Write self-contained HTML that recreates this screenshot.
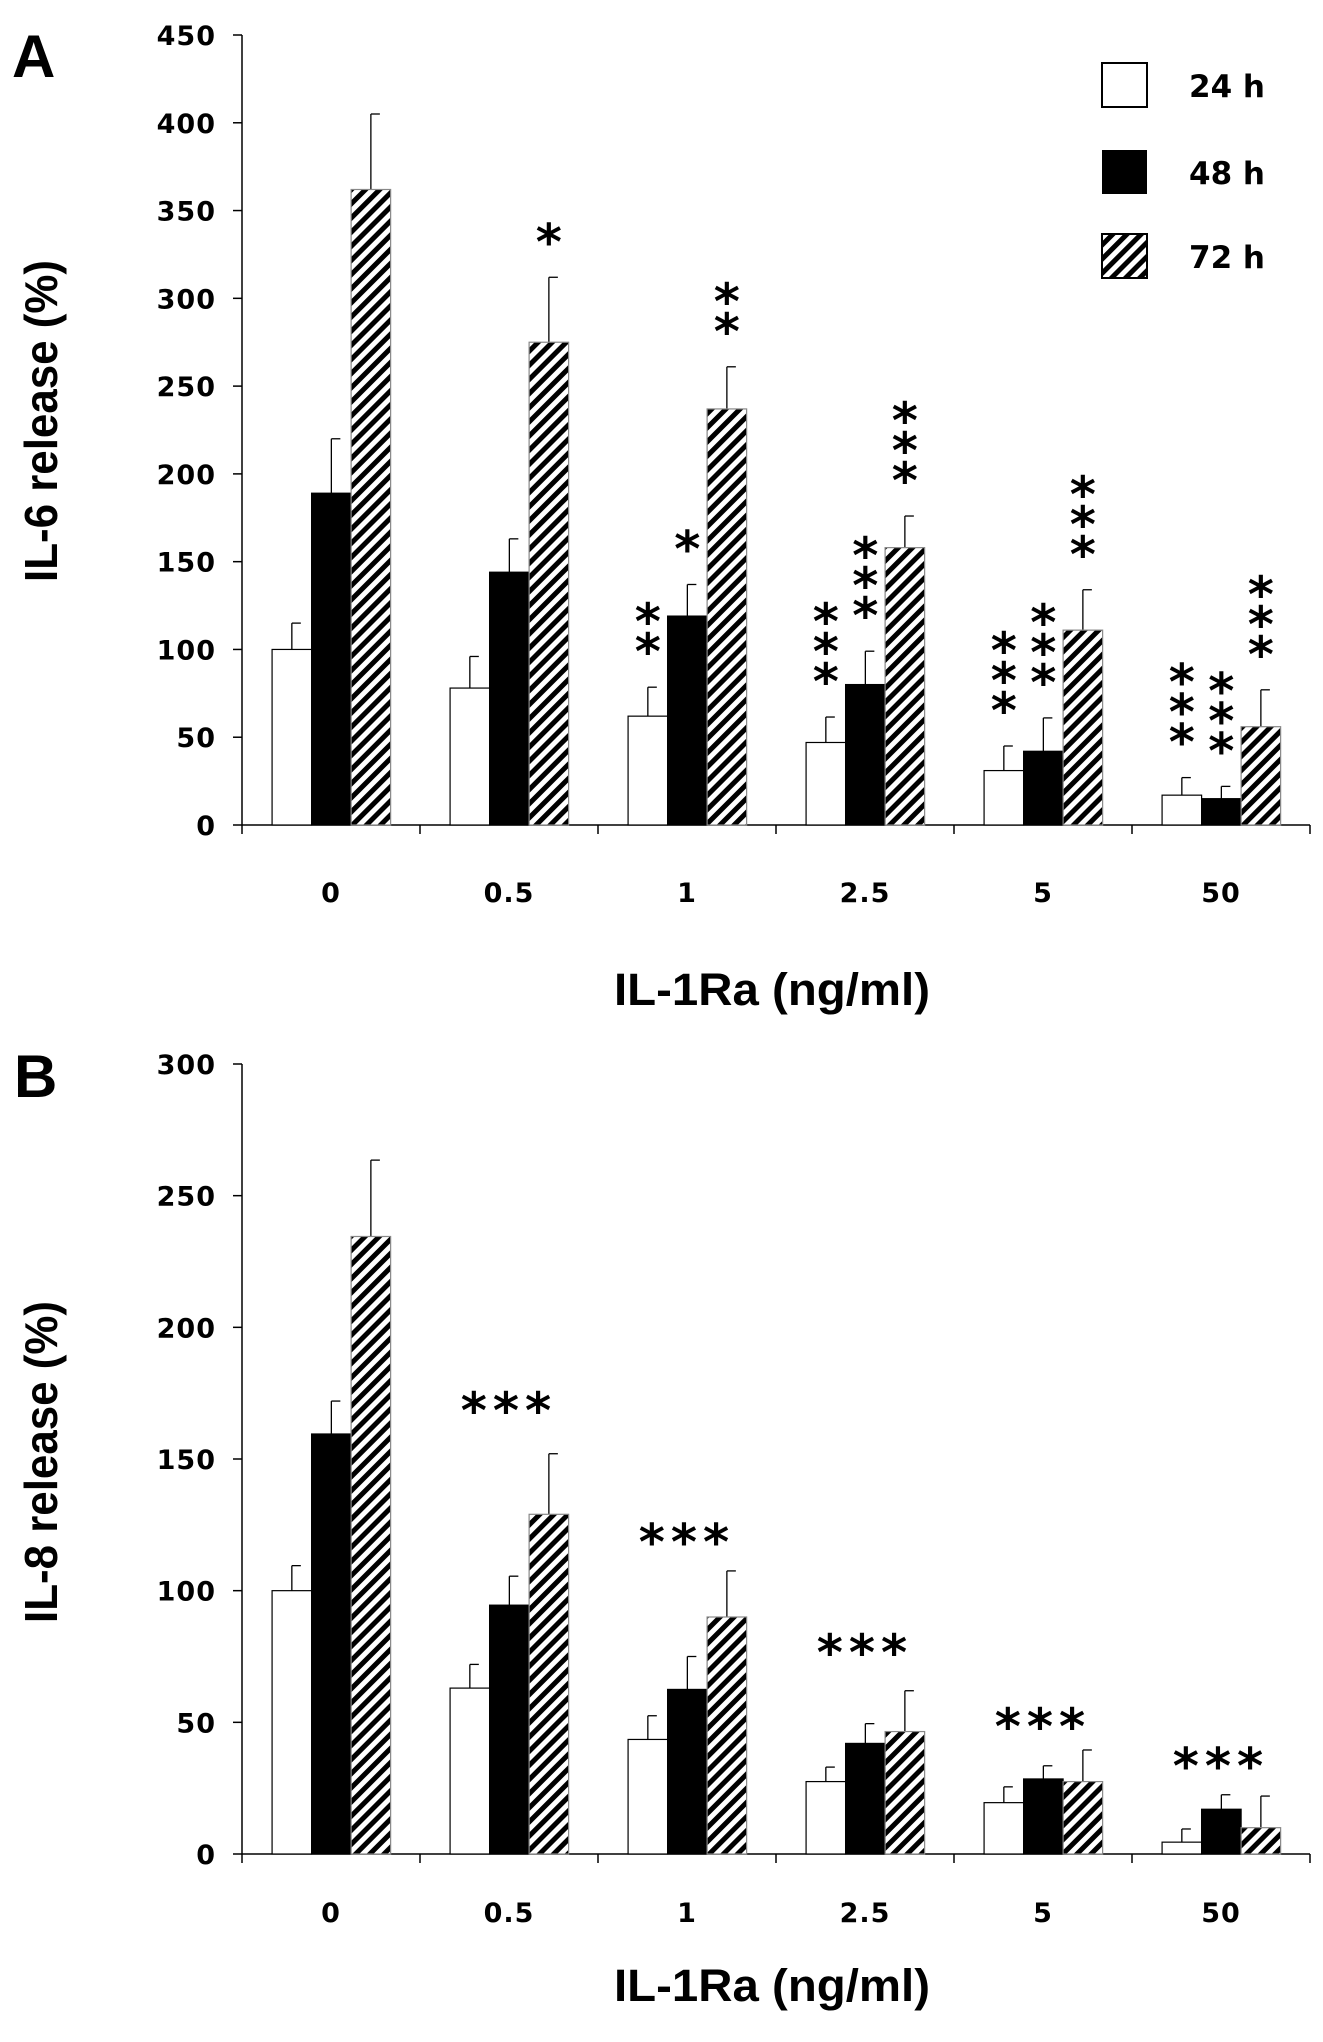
<!DOCTYPE html>
<html><head><meta charset="utf-8"><style>
html,body{margin:0;padding:0;background:#fff;}
svg{display:block;}
text{fill:#000;}
</style></head><body>
<svg id="fig" width="1323" height="2042" viewBox="0 0 1323 2042" xmlns="http://www.w3.org/2000/svg">
<defs>
<pattern id="hatch" patternUnits="userSpaceOnUse" width="10" height="10" patternTransform="rotate(45)">
<rect x="0" y="0" width="10" height="10" fill="#fff"/>
<rect x="0" y="0" width="5" height="10" fill="#000"/>
</pattern>
</defs>
<text x="12" y="77" font-family="Liberation Sans, sans-serif" font-weight="bold" font-size="60">A</text>
<text x="14" y="1097" font-family="Liberation Sans, sans-serif" font-weight="bold" font-size="60">B</text>
<g>
<rect x="1102" y="63" width="45" height="44" fill="#fff" stroke="#000" stroke-width="2"/>
<text x="1189" y="97" font-family="DejaVu Sans, sans-serif" font-weight="bold" font-size="31">24 h</text>
<rect x="1102" y="150" width="45" height="44" fill="#000"/>
<text x="1189" y="184" font-family="DejaVu Sans, sans-serif" font-weight="bold" font-size="31">48 h</text>
<rect x="1102" y="234" width="45" height="44" fill="url(#hatch)" stroke="#000" stroke-width="2"/>
<text x="1189" y="268" font-family="DejaVu Sans, sans-serif" font-weight="bold" font-size="31">72 h</text>
</g>
<g id="chartA"></g>
<g id="chartB"></g>
</svg>
<script>
const categories = ["0","0.5","1","2.5","5","50"];
const il6_24h = [100, 78, 62, 47, 31, 17];
const il6_24hErr = [15, 18, 16.5, 14.5, 14, 10];
const il6_48h = [189, 144, 119, 80, 42, 15];
const il6_48hErr = [31, 19, 18, 19, 19, 7];
const il6_72h = [362, 275, 237, 158, 111, 56];
const il6_72hErr = [43, 37, 24, 18, 23, 21];
const il6Stars = [[0,0,0],[0,0,1],[2,1,2],[3,3,3],[3,3,3],[3,3,3]];
const il6Ticks = [0,50,100,150,200,250,300,350,400,450];

const il8_24h = [100, 63, 43.5, 27.5, 19.5, 4.5];
const il8_24hErr = [9.5, 9, 9, 5.5, 6, 5];
const il8_48h = [159.5, 94.5, 62.5, 42, 28.5, 17];
const il8_48hErr = [12.5, 11, 12.5, 7.5, 5, 5.5];
const il8_72h = [234.5, 129, 90, 46.5, 27.5, 10];
const il8_72hErr = [29, 23, 17.5, 15.5, 12, 12];
const il8StarLevel = [null, 174, 124, 82, 54, 39];
const il8Ticks = [0,50,100,150,200,250,300];

const NS = "http://www.w3.org/2000/svg";
function mk(parent, tag, attrs, txt){
  const e = document.createElementNS(NS, tag);
  for (const k in attrs) e.setAttribute(k, attrs[k]);
  if (txt !== undefined) e.textContent = txt;
  parent.appendChild(e);
  return e;
}
const X0 = 242, X1 = 1310, GW = (X1 - X0) / categories.length;

function drawChart(g, cfg){
  const yS = v => cfg.y0 - (v / cfg.max) * (cfg.y0 - cfg.yTop);
  const ya = mk(g, "line", {x1:X0, y1:cfg.yTop, x2:X0, y2:cfg.y0, stroke:"#000", "stroke-width":1.5});
  
  
  const xa = mk(g, "line", {x1:X0, y1:cfg.y0, x2:X1, y2:cfg.y0, stroke:"#000", "stroke-width":1.5});
  
  
  cfg.ticks.forEach(t => {
    const y = yS(t);
    mk(g, "line", {x1:X0-9, y1:y, x2:X0, y2:y, stroke:"#000", "stroke-width":1.5});
    const lb = mk(g, "text", {x:216, y:y+10, "text-anchor":"end", "font-family":"DejaVu Sans, sans-serif", "font-weight":"bold", "font-size":27, "letter-spacing":"1"}, String(t));
    
    
  });
  for (let i = 0; i <= categories.length; i++) {
    const x = X0 + i * GW;
    mk(g, "line", {x1:x, y1:cfg.y0, x2:x, y2:cfg.y0+9, stroke:"#000", "stroke-width":1.5});
  }
  categories.forEach((c, i) => {
    const cx = X0 + (i + 0.5) * GW;
    const lb = mk(g, "text", {x:cx, y:cfg.xLabelY, "text-anchor":"middle", "font-family":"DejaVu Sans, sans-serif", "font-weight":"bold", "font-size":27, "letter-spacing":"1"}, c);
    
    
    const bw = GW * 0.222, start = X0 + i * GW + GW * 0.169;
    const series = [[cfg.s1, cfg.e1, "#fff", "#000"], [cfg.s2, cfg.e2, "#000", "#000"], [cfg.s3, cfg.e3, "url(#hatch)", "#888"]];
    series.forEach((s, k) => {
      const v = s[0][i], err = s[1][i];
      const x = start + k * bw, y = yS(v), ey = yS(v + err);
      const bx = x + bw / 2;
      const el = mk(g, "line", {x1:bx, y1:y, x2:bx, y2:ey, stroke:"#000", "stroke-width":1.3});
      
      
      mk(g, "line", {x1:bx, y1:ey, x2:bx+9, y2:ey, stroke:"#000", "stroke-width":1.3});
      const r = mk(g, "rect", {x:x, y:y, width:bw, height:cfg.y0 - y, fill:s[2], stroke:s[3], "stroke-width":1.2});
      
      
      if (cfg.starsStack) {
        const n = cfg.starsStack[i][k];
        for (let j = 0; j < n; j++) {
          const sy = ey - 50 - j * 30;
          const st = mk(g, "text", {x:bx, y:sy + 32, "text-anchor":"middle", "font-family":"DejaVu Sans, sans-serif", "font-weight":"bold", "font-size":50}, "*");
          
          
        }
      }
    });
    if (cfg.starLevel && cfg.starLevel[i] !== null) {
      const sy = yS(cfg.starLevel[i]);
      const st = mk(g, "text", {x:cx, y:sy + 32, "text-anchor":"middle", "font-family":"DejaVu Sans, sans-serif", "font-weight":"bold", "font-size":50, "letter-spacing":"6"}, "***");
      
      
    }
  });
  const xt = mk(g, "text", {x:772, y:cfg.xTitleY, "text-anchor":"middle", "font-family":"Liberation Sans, sans-serif", "font-weight":"bold", "font-size":45, textLength:316, lengthAdjust:"spacingAndGlyphs"}, "IL-1Ra (ng/ml)");
  
  
  const yt = mk(g, "text", {x:0, y:0, "text-anchor":"middle", "font-family":"Liberation Sans, sans-serif", "font-weight":"bold", "font-size":46, textLength:322, lengthAdjust:"spacingAndGlyphs", transform:"translate(57," + cfg.yTitleY + ") rotate(-90)"}, cfg.yTitle);
  
  
}

drawChart(document.getElementById("chartA"), {key:"il6", y0:825, yTop:35, max:450, ticks:il6Ticks,
  s1:il6_24h, e1:il6_24hErr, s2:il6_48h, e2:il6_48hErr, s3:il6_72h, e3:il6_72hErr,
  starsStack:il6Stars, xLabelY:902, xTitleY:1005, yTitle:"IL-6 release (%)", yTitleY:421});
drawChart(document.getElementById("chartB"), {key:"il8", y0:1854, yTop:1064, max:300, ticks:il8Ticks,
  s1:il8_24h, e1:il8_24hErr, s2:il8_48h, e2:il8_48hErr, s3:il8_72h, e3:il8_72hErr,
  starLevel:il8StarLevel, xLabelY:1922, xTitleY:2001, yTitle:"IL-8 release (%)", yTitleY:1462});
</script>
</body></html>
